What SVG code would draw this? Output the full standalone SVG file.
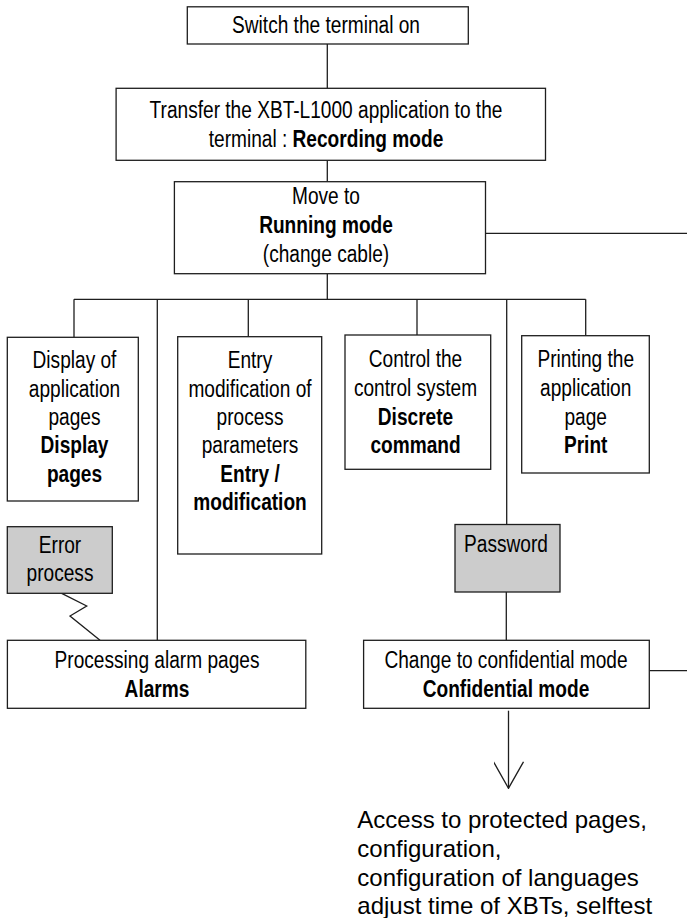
<svg xmlns="http://www.w3.org/2000/svg" width="687" height="918" viewBox="0 0 687 918">
<style>
.box{fill:#ffffff;stroke:#1e1e1e;stroke-width:1.3}
.grey{fill:#cccccc;stroke:#1e1e1e;stroke-width:1.3}
.t{font-family:"Liberation Sans",Arial,sans-serif;font-size:23.3px;fill:#000;text-anchor:middle}
.b{font-weight:bold}
.big{font-family:"Liberation Sans",Arial,sans-serif;font-size:24px;fill:#000}
.c{fill:none;stroke:#1e1e1e;stroke-width:1.3}
</style>
<defs>
<marker id="openV" viewBox="0 0 31 30" refX="30" refY="15" markerWidth="31" markerHeight="30" markerUnits="userSpaceOnUse" orient="auto">
<path d="M3.4,0 L30,15 L3.4,30" fill="none" stroke="#1e1e1e" stroke-width="1.3"/>
</marker>
</defs>
<rect width="687" height="918" fill="#ffffff"/>

<g id="connectors">
<line class="c" x1="327.3" y1="44" x2="327.3" y2="88.3"/>
<line class="c" x1="327.3" y1="160.3" x2="327.3" y2="181.7"/>
<line class="c" x1="327.3" y1="273.7" x2="327.3" y2="299.3"/>
<line class="c" x1="485.5" y1="233.3" x2="687" y2="233.3"/>
<line class="c" x1="74" y1="299.3" x2="585.7" y2="299.3"/>
<line class="c" x1="74" y1="299.3" x2="74" y2="337.3"/>
<line class="c" x1="157.3" y1="299.3" x2="157.3" y2="640.3"/>
<line class="c" x1="248.3" y1="299.3" x2="248.3" y2="336.7"/>
<line class="c" x1="417" y1="299.3" x2="417" y2="335"/>
<line class="c" x1="506.7" y1="299.3" x2="506.7" y2="524.5"/>
<line class="c" x1="585.7" y1="299.3" x2="585.7" y2="335.7"/>
<line class="c" x1="506.3" y1="592" x2="506.3" y2="640.3"/>
<polyline class="c" points="61.7,593.3 86.7,606 70,616 100,640.3"/>
<line class="c" x1="649.3" y1="670.7" x2="687" y2="670.7"/>
<line class="c" x1="508.5" y1="710.7" x2="508.5" y2="788.3" marker-end="url(#openV)"/>
</g>

<g id="switch-on">
<rect class="box" x="187.3" y="6.8" width="281" height="37.2"/>
<g transform="translate(326 0) scale(0.82 1)"><text class="t" x="0" y="33.3">Switch the terminal on</text></g>
</g>

<g id="transfer">
<rect class="box" x="116.1" y="88.3" width="429.4" height="72"/>
<g transform="translate(326 0) scale(0.82 1)">
<text class="t" x="0" y="118.3">Transfer the XBT-L1000 application to the</text>
<text class="t" x="0" y="146.7">terminal : <tspan class="b">Recording mode</tspan></text>
</g>
</g>

<g id="running-mode">
<rect class="box" x="174.4" y="181.7" width="311.1" height="92"/>
<g transform="translate(326 0) scale(0.82 1)">
<text class="t" x="0" y="204">Move to</text>
<text class="t b" x="0" y="233.3">Running mode</text>
<text class="t" x="0" y="261.7">(change cable)</text>
</g>
</g>

<g id="display-pages">
<rect class="box" x="7.3" y="337.3" width="131" height="163.7"/>
<g transform="translate(74.5 0) scale(0.82 1)">
<text class="t" x="0" y="368.3">Display of</text>
<text class="t" x="0" y="396.7">application</text>
<text class="t" x="0" y="425">pages</text>
<text class="t b" x="0" y="453.3">Display</text>
<text class="t b" x="0" y="481.7">pages</text>
</g>
</g>

<g id="entry-modification">
<rect class="box" x="177.7" y="336.7" width="144" height="217.3"/>
<g transform="translate(250 0) scale(0.82 1)">
<text class="t" x="0" y="368.3">Entry</text>
<text class="t" x="0" y="396.7">modification of</text>
<text class="t" x="0" y="425">process</text>
<text class="t" x="0" y="453.3">parameters</text>
<text class="t b" x="0" y="481.7">Entry /</text>
<text class="t b" x="0" y="510">modification</text>
</g>
</g>

<g id="discrete-command">
<rect class="box" x="345" y="335" width="145.7" height="134.3"/>
<g transform="translate(415.5 0) scale(0.82 1)">
<text class="t" x="0" y="367.3">Control the</text>
<text class="t" x="0" y="396">control system</text>
<text class="t b" x="0" y="425">Discrete</text>
<text class="t b" x="0" y="453.3">command</text>
</g>
</g>

<g id="print">
<rect class="box" x="521.7" y="335.7" width="127.6" height="137.3"/>
<g transform="translate(585.7 0) scale(0.82 1)">
<text class="t" x="0" y="367.3">Printing the</text>
<text class="t" x="0" y="396">application</text>
<text class="t" x="0" y="425">page</text>
<text class="t b" x="0" y="453.3">Print</text>
</g>
</g>

<g id="error-process">
<rect class="grey" x="7.3" y="526.7" width="105" height="66.6"/>
<g transform="translate(60 0) scale(0.82 1)">
<text class="t" x="0" y="553.3">Error</text>
<text class="t" x="0" y="581">process</text>
</g>
</g>

<g id="password">
<rect class="grey" x="455" y="524.5" width="105" height="67.5"/>
<g transform="translate(506 0) scale(0.82 1)">
<text class="t" x="0" y="551.7">Password</text>
</g>
</g>

<g id="alarms">
<rect class="box" x="7.4" y="640.3" width="298.4" height="68"/>
<g transform="translate(157 0) scale(0.82 1)">
<text class="t" x="0" y="668.3">Processing alarm pages</text>
<text class="t b" x="0" y="696.7">Alarms</text>
</g>
</g>

<g id="confidential-mode">
<rect class="box" x="363.6" y="640.3" width="285.7" height="68"/>
<g transform="translate(506 0) scale(0.82 1)">
<text class="t" x="0" y="668.3">Change to confidential mode</text>
<text class="t b" x="0" y="696.7">Confidential mode</text>
</g>
</g>

<g id="protected-access">
<text class="big" x="357.3" y="827.7">Access to protected pages,</text>
<text class="big" x="357.3" y="856.7">configuration,</text>
<text class="big" x="357.3" y="885.7">configuration of languages</text>
<text class="big" x="357.3" y="914">adjust time of XBTs, selftest</text>
</g>
</svg>
